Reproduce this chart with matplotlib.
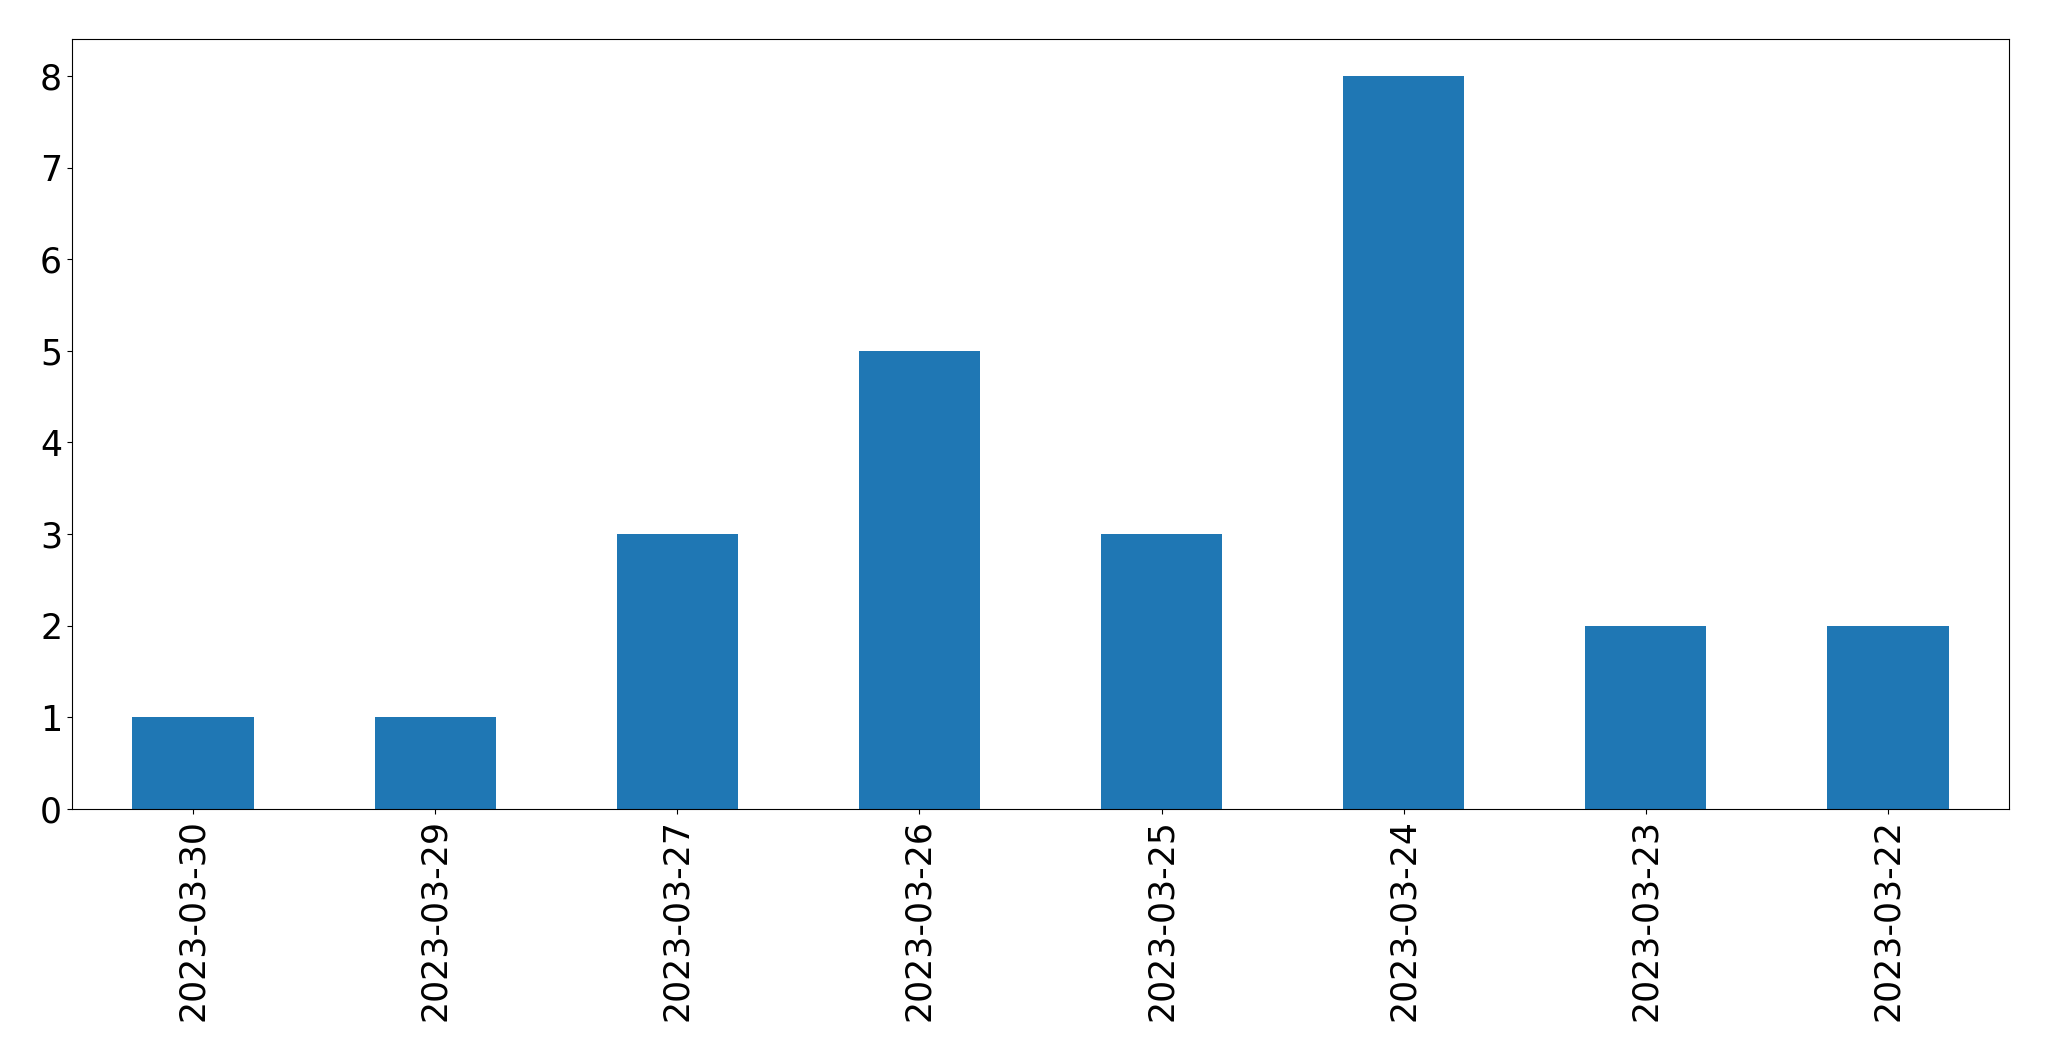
import pandas as pd
import matplotlib
matplotlib.use("Agg")
import matplotlib.pyplot as plt

# counts per day, in the order shown
dates = ['2023-03-30', '2023-03-29', '2023-03-27', '2023-03-26',
         '2023-03-25', '2023-03-24', '2023-03-23', '2023-03-22']
counts = [1, 1, 3, 5, 3, 8, 2, 2]

plt.rcParams['font.size'] = 25

s = pd.Series(counts, index=dates)

fig = plt.figure(figsize=(20.49, 10.61), dpi=100)
ax = fig.add_subplot(111)
s.plot(kind='bar', ax=ax, color='#1f77b4')
ax.tick_params(axis='both', labelsize=25)
plt.xticks(rotation=90)

fig.subplots_adjust(left=0.0351, right=0.9805, top=0.963, bottom=0.2375)
fig.savefig('out.png', dpi=100)
